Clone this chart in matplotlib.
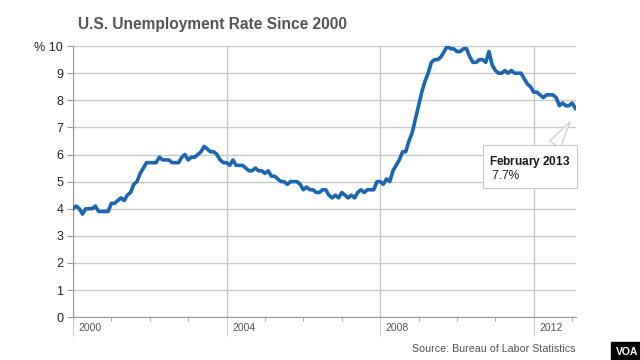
import numpy as np
import matplotlib.pyplot as plt
import matplotlib.transforms as mtrans
from matplotlib.ticker import MultipleLocator, FixedLocator

plt.rcParams['font.family'] = ['Liberation Sans', 'DejaVu Sans']
plt.rcParams['mathtext.fontset'] = 'custom'
plt.rcParams['mathtext.rm'] = 'Liberation Sans'
plt.rcParams['mathtext.bf'] = 'Liberation Sans:bold'

# =========================
# DATA (monthly, Jan 2000 - Feb 2013)
# =========================
rate_2000 = [4.0, 4.1, 4.0, 3.8, 4.0, 4.0, 4.0, 4.1, 3.9, 3.9, 3.9, 3.9]
rate_2001 = [4.2, 4.2, 4.3, 4.4, 4.3, 4.5, 4.6, 4.9, 5.0, 5.3, 5.5, 5.7]
rate_2002 = [5.7, 5.7, 5.7, 5.9, 5.8, 5.8, 5.8, 5.7, 5.7, 5.7, 5.9, 6.0]
rate_2003 = [5.8, 5.9, 5.9, 6.0, 6.1, 6.3, 6.2, 6.1, 6.1, 6.0, 5.8, 5.7]
rate_2004 = [5.7, 5.6, 5.8, 5.6, 5.6, 5.6, 5.5, 5.4, 5.4, 5.5, 5.4, 5.4]
rate_2005 = [5.3, 5.4, 5.2, 5.2, 5.1, 5.0, 5.0, 4.9, 5.0, 5.0, 5.0, 4.9]
rate_2006 = [4.7, 4.8, 4.7, 4.7, 4.6, 4.6, 4.7, 4.7, 4.5, 4.4, 4.5, 4.4]
rate_2007 = [4.6, 4.5, 4.4, 4.5, 4.4, 4.6, 4.7, 4.6, 4.7, 4.7, 4.7, 5.0]
rate_2008 = [5.0, 4.9, 5.1, 5.0, 5.4, 5.6, 5.8, 6.1, 6.1, 6.5, 6.8, 7.3]
rate_2009 = [7.8, 8.3, 8.7, 9.0, 9.4, 9.5, 9.5, 9.6, 9.8, 10.0, 9.9, 9.9]
rate_2010 = [9.8, 9.8, 9.9, 9.9, 9.6, 9.4, 9.4, 9.5, 9.5, 9.4, 9.8, 9.3]
rate_2011 = [9.1, 9.0, 9.0, 9.1, 9.0, 9.1, 9.0, 9.0, 9.0, 8.8, 8.6, 8.5]
rate_2012 = [8.3, 8.3, 8.2, 8.1, 8.2, 8.2, 8.2, 8.1, 7.8, 7.9, 7.8, 7.8]
rate_2013 = [7.9, 7.7]

rates = (rate_2000 + rate_2001 + rate_2002 + rate_2003 + rate_2004 + rate_2005
         + rate_2006 + rate_2007 + rate_2008 + rate_2009 + rate_2010 + rate_2011
         + rate_2012 + rate_2013)
start_year = 2000
years = start_year + np.arange(len(rates)) / 12.0

year_labels = [2000, 2004, 2008, 2012]
y_ticks = list(range(0, 11))
y_labels = [str(v) for v in y_ticks[:-1]] + ['% 10']
last_label = 'February 2013'

# =========================
# PLOT
# =========================
fig = plt.figure(figsize=(6.4, 3.6), dpi=100)
ax = fig.add_axes([0.114, 0.119, 0.786, 0.753])

ax.plot(years, rates, color='#1a66b0', lw=2.6, solid_joinstyle='round', zorder=3)

ax.set_xlim(2000, 2013.1)
ax.set_ylim(0, 10)

ax.set_yticks(y_ticks)
ax.set_yticklabels(y_labels)
ax.xaxis.set_major_locator(FixedLocator(year_labels))
ax.xaxis.set_minor_locator(MultipleLocator(1))
ax.set_xticklabels([str(y) for y in year_labels])

ax.grid(True, axis='y', color='#c8c8c8', lw=1)
ax.grid(True, axis='x', which='major', color='#c8c8c8', lw=1)
ax.set_axisbelow(True)

for s in ['top', 'right']:
    ax.spines[s].set_visible(False)
for s in ['left', 'bottom']:
    ax.spines[s].set_color('#999999')

ax.tick_params(axis='y', length=4, color='#999999', labelcolor='#222222',
               labelsize=9, pad=3)
ax.tick_params(axis='x', which='major', length=14, color='#cccccc',
               labelcolor='#555555', labelsize=7.5, pad=-10)
ax.tick_params(axis='x', which='minor', length=3, color='#999999')

# year labels sit to the right of their tick
offset = mtrans.ScaledTranslation(4 / 72, 0, fig.dpi_scale_trans)
for lbl in ax.get_xticklabels():
    lbl.set_horizontalalignment('left')
    lbl.set_transform(lbl.get_transform() + offset)

# =========================
# CALLOUT
# =========================
tip = (years[-1] - 0.14, rates[-1] - 0.5)   # pointer tip just below last point
callout = r'$\bf{' + last_label.replace(' ', r'\;') + '}$\n ' + '%.1f%%' % rates[-1]
ax.annotate(callout, xy=tip,
            xytext=(-58.3, -22.7), textcoords='offset points',
            fontsize=8.5, color='#1a1a1a', linespacing=1.0,
            ha='left', va='top', annotation_clip=False,
            bbox=dict(boxstyle='square,pad=0.55', fc='white', ec='#c8c8c8', lw=0.8),
            arrowprops=dict(arrowstyle='wedge,tail_width=1.1,shrink_factor=0.5',
                            fc='white', ec='#c8c8c8', lw=0.8,
                            relpos=(0.74, 1.0), shrinkA=0, shrinkB=0))

fig.text(0.122, 0.933, 'U.S. Unemployment Rate Since 2000', fontsize=11.2,
         fontweight='bold', color='#555555', ha='left', va='center')
fig.text(0.9, 0.031, 'Source: Bureau of Labor Statistics', fontsize=7.7,
         color='#555555', ha='right', va='center')
fig.text(0.98, 0.022, 'VOA', fontsize=7.5, fontweight='bold', color='white',
         ha='center', va='center',
         bbox=dict(boxstyle='square,pad=0.5', fc='black', ec='black'))

fig.savefig('out.png', dpi=100)
